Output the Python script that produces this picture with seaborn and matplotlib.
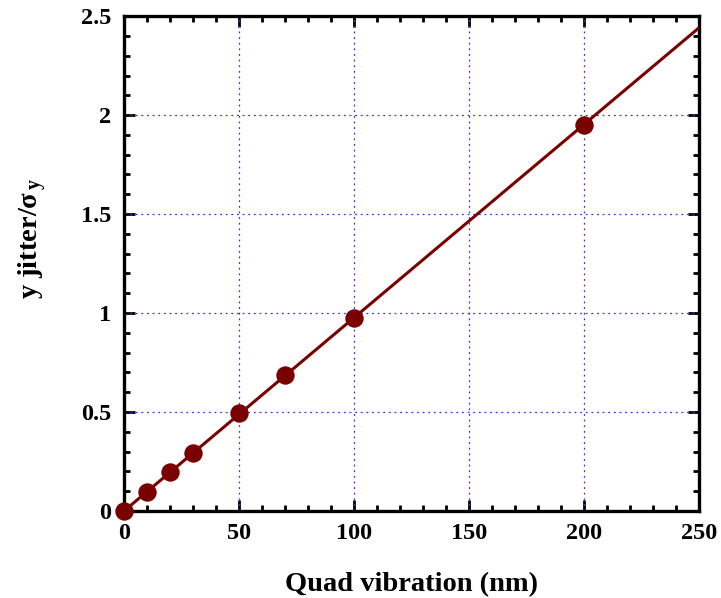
import numpy as np
import pandas as pd
import matplotlib
matplotlib.use("Agg")
import matplotlib.pyplot as plt
from matplotlib.ticker import MultipleLocator
import seaborn as sns

# data
vibration_nm = [0, 10, 20, 30, 50, 70, 100, 200]
jitter_over_sigma = [0.0, 0.097, 0.197, 0.295, 0.495, 0.688, 0.975, 1.95]
x_ticks = [0, 50, 100, 150, 200, 250]
y_ticks = [0, 0.5, 1, 1.5, 2, 2.5]
fit_x_range = [0, 250]

sns.set_theme(style="white")
plt.rcParams['font.family'] = ['Liberation Serif', 'DejaVu Serif']
plt.rcParams['text.color'] = 'black'
plt.rcParams['axes.labelcolor'] = 'black'
plt.rcParams['xtick.color'] = 'black'
plt.rcParams['ytick.color'] = 'black'
plt.rcParams['mathtext.fontset'] = 'custom'
plt.rcParams['mathtext.rm'] = 'Liberation Serif:bold'
plt.rcParams['mathtext.it'] = 'Liberation Serif:bold'
plt.rcParams['mathtext.bf'] = 'Liberation Serif:bold'

df = pd.DataFrame({"x": vibration_nm, "y": jitter_over_sigma})
xa = np.array(vibration_nm, dtype=float)
ya = np.array(jitter_over_sigma, dtype=float)
slope = np.sum(xa * ya) / np.sum(xa ** 2)
fit_df = pd.DataFrame({"x": fit_x_range, "y": [slope * v for v in fit_x_range]})

fig = plt.figure(figsize=(7.21, 5.98), dpi=100)
ax = fig.add_axes([0.172, 0.1455, 0.7975, 0.8275])

color = "#7a0000"
sns.lineplot(data=fit_df, x="x", y="y", ax=ax, color=color, linewidth=2.2, zorder=3)
sns.scatterplot(data=df, x="x", y="y", ax=ax, color=color, s=175, edgecolor=color,
                linewidth=0, zorder=4, clip_on=False)

ax.set_xlim(0, 250)
ax.set_ylim(0, 2.5)
ax.set_xticks(x_ticks)
ax.set_yticks(y_ticks)
ax.set_xticklabels([f"{v:g}" for v in x_ticks])
ax.set_yticklabels([f"{v:g}" for v in y_ticks])
ax.xaxis.set_minor_locator(MultipleLocator(10))
ax.yaxis.set_minor_locator(MultipleLocator(0.1))

ax.tick_params(which="both", direction="in", top=True, right=True, bottom=True, left=True,
               width=2.0, colors="black")
ax.tick_params(which="major", length=8, labelsize=17.5, pad=9)
ax.tick_params(which="minor", length=4.5)
for lab in ax.get_xticklabels() + ax.get_yticklabels():
    lab.set_fontweight("bold")

for s in ax.spines.values():
    s.set_linewidth(2.4)
    s.set_color("black")

# grid at interior major ticks
for v in x_ticks[1:-1]:
    ax.axvline(v, color="#3333ee", linestyle=(0, (1.5, 3)), linewidth=0.9, zorder=1)
for v in y_ticks[1:-1]:
    ax.axhline(v, color="#3333ee", linestyle=(0, (1.5, 3)), linewidth=0.9, zorder=1)

ax.set_xlabel("Quad vibration (nm)", fontsize=20.5, fontweight="bold", labelpad=20)
ax.set_ylabel(r"y jitter/$\mathregular{\sigma_{\,y}}$", fontsize=20.5, fontweight="bold", labelpad=23)
ax.yaxis.label.set_y(0.55)

fig.savefig("out.png", dpi=100)
